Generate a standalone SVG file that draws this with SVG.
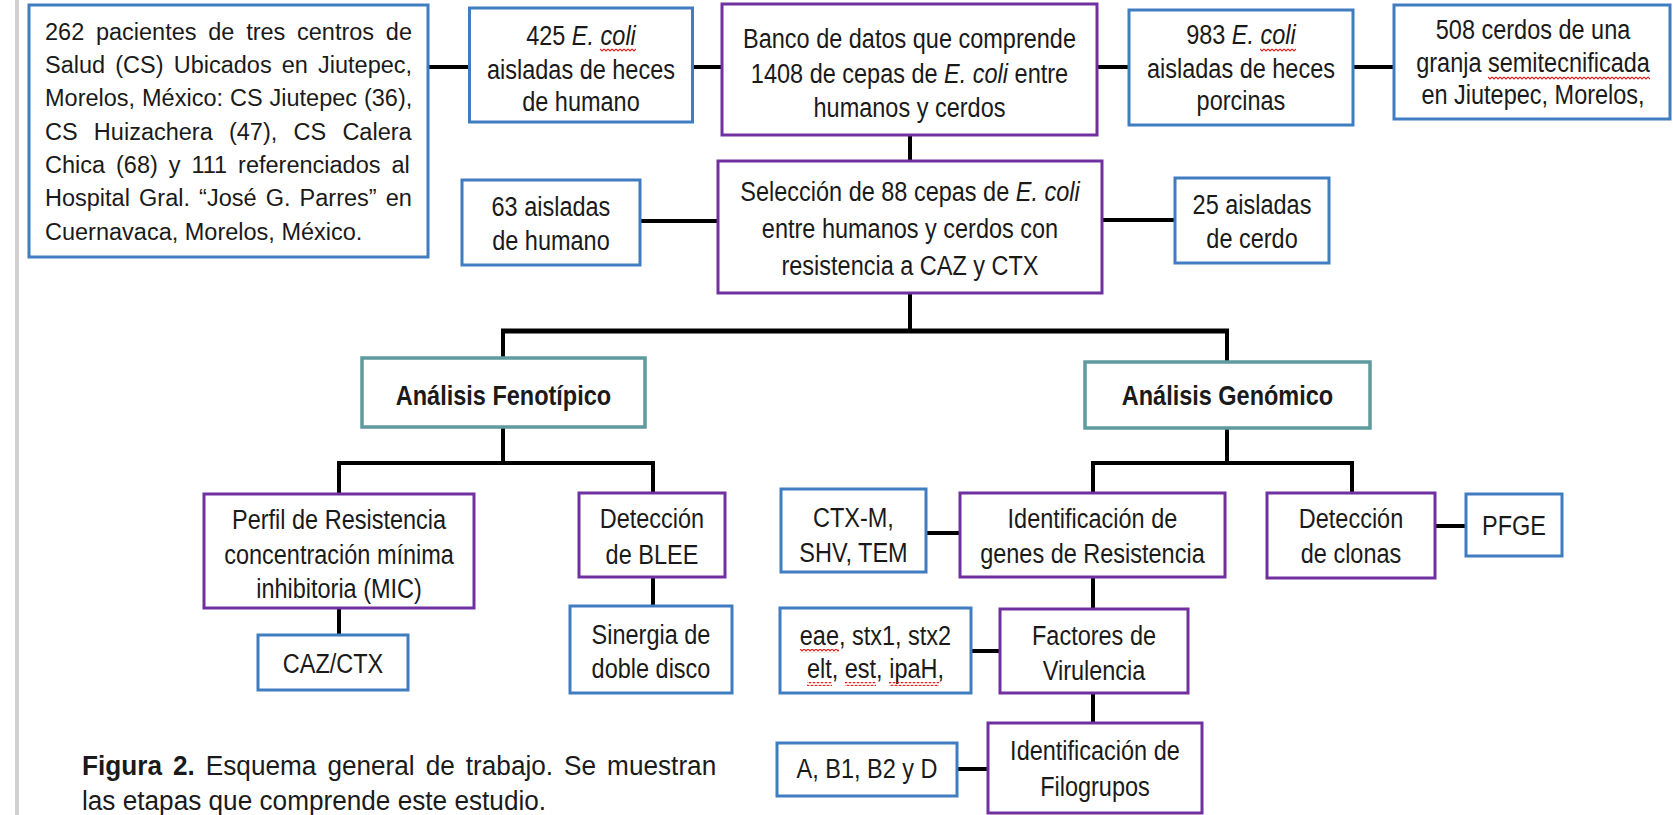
<svg xmlns="http://www.w3.org/2000/svg" width="1673" height="815" viewBox="0 0 1673 815">
  <defs>
    <style>
      .bx-blue { fill: #ffffff; stroke: #3f7cc0; stroke-width: 3; }
      .bx-purple { fill: #ffffff; stroke: #7030a0; stroke-width: 3; }
      .bx-teal { fill: #ffffff; stroke: #5f9a9f; stroke-width: 3.5; }
      .conn line { stroke: #000000; stroke-width: 4; stroke-linecap: butt; }
      text { font-family: "Liberation Sans", Arial, sans-serif; font-size: 23.5px; fill: #1a1a1a; }
      /* condensed labels: tall glyphs squeezed horizontally (x values are pre-divided by 0.87) */
      .n { font-size: 27px; text-anchor: middle; transform: scale(0.87, 1); }
      .bold { font-weight: bold; }
      .it { font-style: italic; }
      /* caption: x values pre-divided by 0.935 */
      .cap { font-size: 28px; transform: scale(0.935, 1); }
      .squig { fill: url(#wave); }
    </style>
    <!-- red wavy spell-check underline -->
    <pattern id="wave" patternUnits="userSpaceOnUse" width="4" height="4">
      <path d="M0 1 L2 3 L4 1" fill="none" stroke="#e0201c" stroke-width="1.1"/>
    </pattern>
  </defs>

  <rect x="0" y="0" width="1673" height="815" fill="#ffffff"/>
  <!-- page margin rule -->
  <line x1="17" y1="0" x2="17" y2="815" stroke="#d0d0d0" stroke-width="4"/>

  <!-- connectors -->
  <g id="connectors" class="conn">
    <line x1="428" y1="67" x2="469" y2="67"/>
    <line x1="692" y1="67" x2="722" y2="67"/>
    <line x1="1097" y1="67" x2="1129" y2="67"/>
    <line x1="1353" y1="67" x2="1394" y2="67"/>
    <line x1="910" y1="135" x2="910" y2="161"/>
    <line x1="640" y1="221" x2="718" y2="221"/>
    <line x1="1102" y1="220" x2="1175" y2="220"/>
    <line x1="910" y1="293" x2="910" y2="331"/>
    <line x1="501" y1="331" x2="1229" y2="331" style="stroke-width:5"/>
    <line x1="503" y1="329" x2="503" y2="358"/>
    <line x1="1227" y1="329" x2="1227" y2="362"/>
    <line x1="503" y1="427" x2="503" y2="463"/>
    <line x1="337" y1="463" x2="655" y2="463"/>
    <line x1="339" y1="461" x2="339" y2="494"/>
    <line x1="653" y1="461" x2="653" y2="493"/>
    <line x1="339" y1="608" x2="339" y2="635"/>
    <line x1="653" y1="577" x2="653" y2="606"/>
    <line x1="1227" y1="428" x2="1227" y2="463"/>
    <line x1="1091" y1="463" x2="1354" y2="463"/>
    <line x1="1093" y1="461" x2="1093" y2="493"/>
    <line x1="1352" y1="461" x2="1352" y2="493"/>
    <line x1="926" y1="533" x2="960" y2="533"/>
    <line x1="1435" y1="526" x2="1466" y2="526"/>
    <line x1="1093" y1="577" x2="1093" y2="609"/>
    <line x1="971" y1="651" x2="1000" y2="651"/>
    <line x1="1093" y1="693" x2="1093" y2="723"/>
    <line x1="957" y1="769" x2="988" y2="769"/>
  </g>

  <g id="pacientes">
    <rect class="bx-blue" x="29" y="5" width="399" height="252"/>
    <text x="45" y="40" word-spacing="5.2">262 pacientes de tres centros de</text>
    <text x="45" y="73" word-spacing="3.6">Salud (CS) Ubicados en Jiutepec,</text>
    <text x="45" y="106" word-spacing="0.4">Morelos, México: CS Jiutepec (36),</text>
    <text x="45" y="140" word-spacing="9.7">CS Huizachera (47), CS Calera</text>
    <text x="45" y="173" word-spacing="4.4">Chica (68) y 111 referenciados al</text>
    <text x="45" y="206" word-spacing="2.6">Hospital Gral. “José G. Parres” en</text>
    <text x="45" y="240">Cuernavaca, Morelos, México.</text>
  </g>

  <g id="ecoli-humano">
    <rect class="bx-blue" x="469.5" y="8" width="223" height="114"/>
    <text class="n" x="667.8" y="45">425 <tspan class="it">E. coli</tspan></text>
    <text class="n" x="667.8" y="79">aisladas de heces</text>
    <text class="n" x="667.8" y="111">de humano</text>
    <rect class="squig" x="600" y="48" width="36" height="4"/>
  </g>

  <g id="banco">
    <rect class="bx-purple" x="722" y="4" width="375" height="131"/>
    <text class="n" x="1045.4" y="48">Banco de datos que comprende</text>
    <text class="n" x="1045.4" y="83">1408 de cepas de <tspan class="it">E. coli</tspan> entre</text>
    <text class="n" x="1045.4" y="117">humanos y cerdos</text>
  </g>

  <g id="ecoli-porcinas">
    <rect class="bx-blue" x="1129" y="10" width="224" height="115"/>
    <text class="n" x="1426.4" y="44">983 <tspan class="it">E. coli</tspan></text>
    <text class="n" x="1426.4" y="78">aisladas de heces</text>
    <text class="n" x="1426.4" y="110">porcinas</text>
    <rect class="squig" x="1260" y="48" width="36" height="4"/>
  </g>

  <g id="cerdos">
    <rect class="bx-blue" x="1394" y="5" width="276" height="114"/>
    <text class="n" x="1762.1" y="39">508 cerdos de una</text>
    <text class="n" x="1762.1" y="72">granja semitecnificada</text>
    <text class="n" x="1762.1" y="104">en Jiutepec, Morelos,</text>
    <rect class="squig" x="1488" y="76" width="162" height="4"/>
  </g>

  <g id="aisladas-humano">
    <rect class="bx-blue" x="462" y="180" width="178" height="85"/>
    <text class="n" x="633.3" y="216">63 aisladas</text>
    <text class="n" x="633.3" y="250">de humano</text>
  </g>

  <g id="seleccion">
    <rect class="bx-purple" x="718" y="161" width="384" height="132"/>
    <text class="n" x="1046" y="201">Selección de 88 cepas de <tspan class="it">E. coli</tspan></text>
    <text class="n" x="1046" y="238">entre humanos y cerdos con</text>
    <text class="n" x="1046" y="275">resistencia a CAZ y CTX</text>
  </g>

  <g id="aisladas-cerdo">
    <rect class="bx-blue" x="1175" y="178" width="154" height="85"/>
    <text class="n" x="1439.1" y="214">25 aisladas</text>
    <text class="n" x="1439.1" y="248">de cerdo</text>
  </g>

  <g id="fenotipico">
    <rect class="bx-teal" x="362" y="358" width="283" height="69"/>
    <text class="n bold" x="578.7" y="405">Análisis Fenotípico</text>
  </g>

  <g id="genomico">
    <rect class="bx-teal" x="1085" y="362" width="285" height="66"/>
    <text class="n bold" x="1410.9" y="405">Análisis Genómico</text>
  </g>

  <g id="perfil">
    <rect class="bx-purple" x="204" y="494" width="270" height="114"/>
    <text class="n" x="389.7" y="529">Perfil de Resistencia</text>
    <text class="n" x="389.7" y="564">concentración mínima</text>
    <text class="n" x="389.7" y="598">inhibitoria (MIC)</text>
  </g>

  <g id="caz-ctx">
    <rect class="bx-blue" x="258" y="635" width="150" height="55"/>
    <text class="n" x="382.8" y="673">CAZ/CTX</text>
  </g>

  <g id="blee">
    <rect class="bx-purple" x="579" y="493" width="146" height="84"/>
    <text class="n" x="749.4" y="528">Detección</text>
    <text class="n" x="749.4" y="564">de BLEE</text>
  </g>

  <g id="sinergia">
    <rect class="bx-blue" x="570" y="606" width="162" height="87"/>
    <text class="n" x="748.3" y="644">Sinergia de</text>
    <text class="n" x="748.3" y="678">doble disco</text>
  </g>

  <g id="ctx-m">
    <rect class="bx-blue" x="781" y="489" width="145" height="83"/>
    <text class="n" x="981" y="527">CTX-M,</text>
    <text class="n" x="981" y="562">SHV, TEM</text>
  </g>

  <g id="genes-resistencia">
    <rect class="bx-purple" x="960" y="493" width="265" height="84"/>
    <text class="n" x="1255.7" y="528">Identificación de</text>
    <text class="n" x="1255.7" y="563">genes de Resistencia</text>
  </g>

  <g id="clonas">
    <rect class="bx-purple" x="1267" y="493" width="168" height="85"/>
    <text class="n" x="1552.9" y="528">Detección</text>
    <text class="n" x="1552.9" y="563">de clonas</text>
  </g>

  <g id="pfge">
    <rect class="bx-blue" x="1466" y="494" width="96" height="62"/>
    <text class="n" x="1740.2" y="535">PFGE</text>
  </g>

  <g id="genes-virulencia">
    <rect class="bx-blue" x="780" y="608" width="191" height="85"/>
    <text class="n" x="1006.3" y="645">eae, stx1, stx2</text>
    <text class="n" x="1006.3" y="678">elt, est, ipaH,</text>
    <rect class="squig" x="800" y="649" width="39" height="4"/>
    <rect class="squig" x="807" y="682" width="25" height="4"/>
    <rect class="squig" x="845" y="682" width="31" height="4"/>
    <rect class="squig" x="889" y="682" width="50" height="4"/>
  </g>

  <g id="virulencia">
    <rect class="bx-purple" x="1000" y="609" width="188" height="84"/>
    <text class="n" x="1257.5" y="645">Factores de</text>
    <text class="n" x="1257.5" y="680">Virulencia</text>
  </g>

  <g id="filogrupos">
    <rect class="bx-purple" x="988" y="723" width="214" height="90"/>
    <text class="n" x="1258.6" y="760">Identificación de</text>
    <text class="n" x="1258.6" y="796">Filogrupos</text>
  </g>

  <g id="grupos">
    <rect class="bx-blue" x="777" y="743" width="180" height="53"/>
    <text class="n" x="996.6" y="778">A, B1, B2 y D</text>
  </g>

  <g id="caption">
    <text class="cap" x="87.7" y="775" word-spacing="4"><tspan class="bold">Figura 2.</tspan> Esquema general de trabajo. Se muestran</text>
    <text class="cap" x="87.7" y="810">las etapas que comprende este estudio.</text>
  </g>
</svg>
